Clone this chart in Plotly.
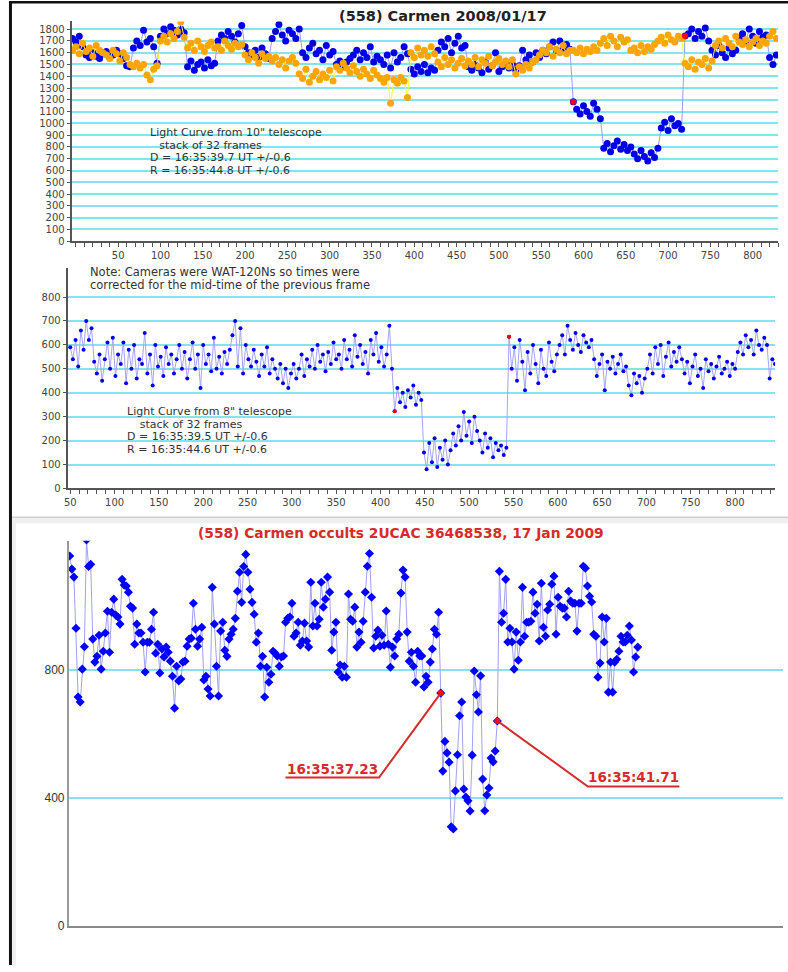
import plotly.graph_objects as go

# ---------------- DATA ----------------
# Panel 1: 10" telescope light curves (two series), frame numbers every 4 frames
TOP_FRAMES = list(range(-4, 829, 4))
TOP_BLUE = [
    1720, 1690, 1740, 1650,
    1580, 1560, 1600, 1570, 1550, 1590, 1610, 1560, 1580,
    1620, 1590, 1550, 1490,
    1480,
    1640, 1700, 1660, 1790, 1690, 1720, 1650,
    1510,
    1740, 1800, 1760, 1820, 1790, 1750, 1800, 1770,
    1480, 1530, 1450, 1500, 1520, 1470, 1540, 1490, 1510,
    1700, 1750, 1720, 1780, 1740, 1690, 1760, 1830,
    1650, 1600, 1580, 1620, 1560, 1640, 1590, 1550,
    1720, 1780, 1840, 1750, 1700, 1790, 1760, 1720, 1800,
    1600, 1560, 1640, 1680, 1590, 1620, 1540, 1660, 1580, 1610,
    1500, 1530, 1480, 1520, 1550,
    1580, 1620, 1540, 1600, 1560, 1650, 1520, 1570,
    1540, 1500, 1580, 1470, 1600, 1520, 1560, 1650,
    1590,
    1460, 1420, 1480, 1440, 1500, 1430, 1470, 1450,
    1620, 1690, 1650, 1720, 1600, 1680, 1740, 1640, 1660,
    1480, 1450, 1500, 1470, 1430, 1520, 1460, 1490, 1600, 1440, 1480, 1510, 1470, 1500, 1450, 1490, 1620,
    1540, 1580, 1520, 1600, 1560, 1620, 1590,
    1650, 1690, 1620, 1700, 1640, 1670, 1630,
    1183,
    1120, 1080, 1150, 1100, 1060, 1170, 1120, 1040,
    790, 830, 760, 810, 850, 780, 820, 770, 800,
    740, 700, 770, 720, 680, 750, 710, 790,
    960, 1010, 940, 1040, 980, 1000, 950,
    1742,
    1760, 1800, 1720, 1780, 1740, 1810, 1700,
    1620, 1580, 1660, 1600, 1560, 1640, 1590, 1620,
    1720, 1760, 1700, 1800, 1740, 1680, 1780, 1730, 1750,
    1560, 1500, 1580,
]
TOP_ORANGE = [
    1620, 1650, 1590, 1680, 1610, 1640, 1570, 1660, 1620, 1600,
    1580, 1550, 1620, 1590, 1530, 1600, 1560,
    1500, 1480, 1510, 1470, 1500, 1410,
    1370, 1460, 1490,
    1700, 1740, 1690, 1760, 1720, 1780, 1860, 1730,
    1640, 1680, 1620, 1700, 1650, 1610, 1660, 1690, 1640,
    1650, 1620, 1700, 1660, 1630, 1680, 1650, 1670,
    1580, 1540, 1600, 1560, 1510, 1590, 1550, 1570, 1530, 1560,
    1500, 1540, 1470, 1530, 1560, 1510,
    1420, 1380, 1460, 1350, 1400, 1440, 1370, 1420, 1390, 1450, 1360,
    1480, 1450, 1510, 1470, 1430, 1490,
    1440, 1400, 1460, 1420, 1380, 1450, 1410,
    1380, 1350, 1390, 1170,
    1370, 1340, 1390, 1360,
    1220,
    1600, 1560, 1640, 1580, 1620, 1570, 1650, 1590,
    1520, 1480, 1560, 1500, 1540, 1470, 1510, 1550, 1490,
    1530, 1500, 1560, 1480, 1540, 1510, 1570, 1490, 1520, 1550, 1500, 1530, 1480, 1540,
    1420, 1480, 1450, 1500, 1470, 1520, 1540,
    1580, 1620, 1600, 1650, 1570, 1630, 1600, 1660, 1590, 1620,
    1620, 1600, 1640, 1590, 1630, 1610, 1650, 1620,
    1680, 1720, 1660, 1740, 1700, 1650, 1730, 1690, 1710,
    1620, 1640, 1600, 1660, 1610, 1650, 1630, 1670,
    1700, 1730, 1680, 1750, 1710, 1690, 1740, 1720,
    1510, 1480, 1540, 1460, 1520, 1500, 1550, 1470, 1530,
    1660, 1700, 1640, 1720, 1680, 1650, 1740, 1690, 1670, 1710, 1650, 1690, 1720, 1660, 1700, 1680,
    1740, 1780, 1720,
]
TOP_EVENT_FRAMES = [588, 720]
TOP_Y_TICKS = list(range(0, 1801, 100))
TOP_X_TICKS = list(range(50, 801, 50))

# Panel 2: 8" telescope light curve, frame numbers every 3 frames
MID_FRAMES = list(range(50, 846, 3))
MID_VALUES = [
    590, 540, 620, 510, 660, 580, 700, 620, 670, 530, 480,
    560, 450, 540, 610, 500, 630, 470, 560, 520, 610, 440, 580, 500, 600, 460, 540,
    520, 650, 480, 560, 430, 600, 510, 550, 470, 590, 520, 560, 480, 540, 600, 500,
    570, 460, 540, 610, 500, 560, 420, 600, 520, 560, 490, 630, 500, 550, 480, 570,
    520, 580, 640, 700, 510, 670, 480, 600, 540, 510, 580,
    530, 470, 560, 510, 590, 480, 540, 500, 460, 520, 440, 500, 420, 480, 520, 460,
    500, 560, 470, 540, 510, 580, 500, 600, 530, 560, 490, 570, 520, 610, 540,
    560, 500, 620, 540, 580, 510, 640, 550, 600, 520, 570, 480, 620, 560, 650, 530, 590, 510, 560, 680, 500,
    323,
    420, 360, 400, 340, 410, 380, 430, 350, 400, 370,
    150, 80, 190, 110, 210, 90, 170, 120, 200, 100, 160,
    230, 180, 260, 200, 320, 220, 280, 190, 300, 240,
    200, 150, 230, 170, 210, 130, 190, 160, 180, 140, 170,
    634,
    500, 590, 450, 620, 530, 410, 570, 480, 600, 520, 440, 580, 500, 470, 610, 530, 490, 560,
    600, 640, 560, 680, 620, 580, 650, 600, 570, 640, 610, 590, 620,
    540, 470, 520, 560, 410, 530, 500, 550, 480, 520, 560, 490, 510,
    430, 390, 480, 440, 470, 400, 460,
    500, 560, 480, 590, 520, 600, 470, 550, 610, 510, 570, 530, 590, 540,
    480, 530, 440, 510, 560, 470, 500, 420, 540, 490, 520, 460, 510, 550, 480, 500, 530, 470, 520, 500,
    570, 610, 560, 640, 590, 620, 560, 660, 600, 580, 630, 600,
    460, 540, 520,
]
MID_EVENT_FRAMES = [416, 545]
MID_Y_TICKS = list(range(0, 801, 100))
MID_X_TICKS = list(range(50, 801, 50))

# Panel 3: occultation light curve (sample index on x)
BOT_VALUES = [
    1157, 1116, 1091, 931, 716, 700, 803, 873, 1207, 1124,
    1131, 897, 825, 843, 909, 803, 859, 916, 984, 856,
    981, 1022, 972, 966, 944, 1084, 1066, 1063, 1044, 1000,
    994, 881, 944, 916, 916, 887, 794, 887, 887, 928,
    981, 853, 881, 791, 866, 841, 872, 856, 828, 781,
    681, 812, 766, 772, 825, 828, 875, 897, 900, 1009,
    928, 875, 897, 934, 769, 781, 741, 719, 1059, 944,
    812, 719, 922, 950, 862, 843, 897, 912, 928, 962,
    1047, 1106, 1012, 1124, 1162, 1106, 1053, 1012, 975, 887,
    916, 812, 843,
    716, 809, 762, 787, 859, 853, 844, 812, 841, 844,
    950, 962, 966, 1009, 906, 916, 950, 878, 891, 947,
    891, 872, 1075, 938, 1009, 938, 959, 1075, 997, 1022,
    1091, 1044, 862, 919, 950, 794, 816, 778, 812, 778,
    1038, 959, 953, 997, 872, 919, 887, 953, 1044, 1125,
    1165, 1028, 869, 906, 925, 875, 909, 878,
    985, 881, 809, 872, 844, 897, 912, 1041, 1113, 1091,
    919, 828, 856, 812, 762, 859, 844, 844, 747, 781,
    762, 825, 866, 928, 912, 981,
    728,
    484, 577, 541, 512, 310, 303, 422, 535, 657, 700,
    428, 403, 391, 359, 534, 797, 723, 669, 782, 459,
    360, 409, 431, 525, 513, 547,
    641,
    1109, 950, 978, 1084, 888, 931, 888, 803, 919, 831,
    888, 1059, 906, 950, 950, 953, 1044, 978, 1006, 891,
    1072, 934, 906, 988, 1006, 1069, 1094, 912, 1028, 1000,
    994, 994, 966, 1047, 1016, 1009, 1009, 922, 1009, 1009,
    1125, 1119, 1063, 1031, 1013, 912, 906, 778, 822, 966,
    888, 962, 731, 825, 731, 825, 834, 859, 906, 888,
    888, 909, 938, 894, 794, 841, 872,
]
BOT_EVENT_IDX = [177, 204]
BOT_EVENT_LABELS = ["16:35:37.23", "16:35:41.71"]
BOT_Y_TICKS = [0, 400, 800]

TOP_TITLE = "(558) Carmen 2008/01/17"
TOP_NOTES = ['Light Curve from 10" telescope', "stack of 32 frames",
             "D = 16:35:39.7 UT +/-0.6", "R = 16:35:44.8 UT +/-0.6"]
MID_NOTES_TOP = ["Note: Cameras were WAT-120Ns so times were",
                 "corrected for the mid-time of the previous frame"]
MID_NOTES = ['Light Curve from 8" telescope', "stack of 32 frames",
             "D = 16:35:39.5 UT +/-0.6", "R = 16:35:44.6 UT +/-0.6"]
BOT_TITLE = "(558) Carmen occults 2UCAC 36468538, 17 Jan 2009"

# ---------------- STYLE / LAYOUT HELPERS ----------------
W, H = 788, 972
def PX(x): return x / W
def PY(y): return 1 - y / H

GRID = "#7fe6ef"
AXC = "#555555"
RED = "#d92a2a"
FONT = "Liberation Sans, Arial, sans-serif"
WIDE = "DejaVu Sans, Verdana, sans-serif"


def block(lines, indents, glyph_px, line_px):
    """Multi-line text: glyphs at glyph_px, line pitch line_px (plotly pitch = 1.3 em of base)."""
    out = []
    for t, ind in zip(lines, indents):
        out.append('<span style="font-size:%.1fpx">%s%s</span>' % (glyph_px, ind, t))
    return "<br>".join(out), line_px / 1.3


top_x = TOP_FRAMES[:len(TOP_BLUE)]
top_xo = TOP_FRAMES[:len(TOP_ORANGE)]
mid_x = MID_FRAMES[:len(MID_VALUES)]
bot_x = list(range(len(BOT_VALUES)))

fig = go.Figure()

# Panel 1
fig.add_trace(go.Scatter(x=top_x, y=TOP_BLUE, mode="lines+markers",
                         line=dict(color="#9a9aff", width=1),
                         marker=dict(color="#0000e6", size=7),
                         xaxis="x", yaxis="y"))
fig.add_trace(go.Scatter(x=top_xo, y=TOP_ORANGE, mode="lines+markers",
                         line=dict(color="#ffff30", width=1),
                         marker=dict(color="#ffa500", size=7),
                         xaxis="x", yaxis="y"))
ti = [TOP_FRAMES.index(f) for f in TOP_EVENT_FRAMES]
fig.add_trace(go.Scatter(x=[top_x[i] for i in ti], y=[TOP_BLUE[i] for i in ti],
                         mode="markers", marker=dict(color="#ff0000", size=6),
                         xaxis="x", yaxis="y"))

# Panel 2
fig.add_trace(go.Scatter(x=mid_x, y=MID_VALUES, mode="lines+markers",
                         line=dict(color="#a4a4ff", width=1),
                         marker=dict(color="#0000ee", size=4),
                         xaxis="x2", yaxis="y2"))
mi = [MID_FRAMES.index(f) for f in MID_EVENT_FRAMES]
fig.add_trace(go.Scatter(x=[mid_x[i] for i in mi], y=[MID_VALUES[i] for i in mi],
                         mode="markers", marker=dict(color="#ff0000", size=4),
                         xaxis="x2", yaxis="y2"))

# Panel 3
B_XR = [-0.5, 340.3]
B_YR = [0, 1205]
B_DOM_X = [65, 783]
B_DOM_Y = [932.5, 544.6]
bx_per_px = (B_XR[1] - B_XR[0]) / (B_DOM_X[1] - B_DOM_X[0])
by_per_px = (B_YR[1] - B_YR[0]) / (B_DOM_Y[0] - B_DOM_Y[1])

fig.add_trace(go.Scatter(x=bot_x, y=BOT_VALUES, mode="lines+markers",
                         line=dict(color="#a0a0f0", width=1),
                         marker=dict(color="#0000ff", size=7, symbol="diamond"),
                         xaxis="x3", yaxis="y3"))

# leader lines (pixel offsets from the event point to the label underline)
LEADERS = [(-62, -156, 85), (91, 183, 66)]  # (near end dx, far end dx, dy) in px
annotations = []
for k, idx in enumerate(BOT_EVENT_IDX):
    ex, ey = bot_x[idx], BOT_VALUES[idx]
    dn, df, dy = LEADERS[k]
    xn = ex + dn * bx_per_px
    xf = ex + df * bx_per_px
    yl = ey - dy * by_per_px
    fig.add_trace(go.Scatter(x=[ex, xn, xf], y=[ey, yl, yl], mode="lines",
                             line=dict(color=RED, width=2),
                             xaxis="x3", yaxis="y3"))
    annotations.append(dict(x=(xn + xf) / 2, y=yl, xref="x3", yref="y3",
                            text="<b>%s</b>" % BOT_EVENT_LABELS[k], showarrow=False,
                            xanchor="center", yanchor="bottom", yshift=-1,
                            font=dict(family=WIDE, size=13.5, color=RED)))
fig.add_trace(go.Scatter(x=[bot_x[i] for i in BOT_EVENT_IDX],
                         y=[BOT_VALUES[i] for i in BOT_EVENT_IDX],
                         mode="markers", marker=dict(color="#ee1111", size=6),
                         xaxis="x3", yaxis="y3"))

# Text annotations
annotations.append(dict(x=PX(441), y=PY(16), xref="paper", yref="paper",
                        text="<b>%s</b>" % TOP_TITLE, showarrow=False,
                        xanchor="center", yanchor="middle",
                        font=dict(family=WIDE, size=14.5, color="#222")))

NB2 = "&nbsp;&nbsp;&#8201;"
NB3 = "&nbsp;&nbsp;&nbsp;&#8201;"
txt, base = block(TOP_NOTES, ["", NB2, "", ""], 11.0, 12.5)
annotations.append(dict(x=PX(145), y=PY(125), xref="paper", yref="paper",
                        text=txt, showarrow=False, xanchor="left", yanchor="top",
                        align="left", font=dict(family=WIDE, size=base, color="#333")))
txt, base = block(MID_NOTES_TOP, ["", ""], 11.5, 12.5)
annotations.append(dict(x=PX(84), y=PY(265), xref="paper", yref="paper",
                        text=txt, showarrow=False, xanchor="left", yanchor="top",
                        align="left", font=dict(family=WIDE, size=base, color="#333")))
txt, base = block(MID_NOTES, ["", NB3, "", ""], 11.0, 12.5)
annotations.append(dict(x=PX(122), y=PY(406), xref="paper", yref="paper",
                        text=txt, showarrow=False, xanchor="left", yanchor="top",
                        align="left", font=dict(family=WIDE, size=base, color="#333")))
annotations.append(dict(x=PX(399), y=PY(537), xref="paper", yref="paper",
                        text="<b>%s</b>" % BOT_TITLE, showarrow=False,
                        xanchor="center", yanchor="middle",
                        font=dict(family=WIDE, size=13.8, color=RED)))

# Frame decorations
shapes = [
    dict(type="rect", xref="paper", yref="paper", x0=PX(8), x1=PX(788), y0=PY(972), y1=PY(520),
         fillcolor="#efefef", line=dict(width=0), layer="below"),
    dict(type="rect", xref="paper", yref="paper", x0=PX(12), x1=PX(788), y0=PY(972), y1=PY(527),
         fillcolor="#ffffff", line=dict(width=0), layer="below"),
    dict(type="line", xref="paper", yref="paper", x0=PX(8), x1=PX(788), y0=PY(521), y1=PY(521),
         line=dict(color="#c4c4c4", width=1), layer="below"),
    dict(type="rect", xref="paper", yref="paper", x0=PX(5), x1=PX(8), y0=PY(972), y1=PY(1),
         fillcolor="#111111", line=dict(width=0)),
    dict(type="rect", xref="paper", yref="paper", x0=PX(5), x1=PX(788), y0=PY(3.5), y1=PY(1),
         fillcolor="#111111", line=dict(width=0)),
]

tickfont_small = dict(family=WIDE, size=10, color="#444")

fig.update_layout(
    width=W, height=H, margin=dict(l=0, r=0, t=0, b=0),
    paper_bgcolor="#ffffff", plot_bgcolor="rgba(0,0,0,0)",
    showlegend=False, annotations=annotations, shapes=shapes,
    xaxis=dict(domain=[PX(68), PX(778)], range=[-5, 830], anchor="y",
               tickmode="array", tickvals=TOP_X_TICKS, ticks="outside", ticklen=4,
               tickcolor=AXC, tickwidth=1,
               minor=dict(tickmode="array", tickvals=list(range(0, 831, 10)),
                          ticks="outside", ticklen=4, tickcolor=AXC, showgrid=False),
               showline=True, linecolor=AXC, linewidth=2, showgrid=False, zeroline=False,
               tickfont=tickfont_small),
    yaxis=dict(domain=[PY(243), PY(21.6)], range=[0, 1865], anchor="x",
               tickmode="array", tickvals=TOP_Y_TICKS, ticks="outside", ticklen=3,
               tickcolor=AXC, showline=True, linecolor=AXC, linewidth=2,
               showgrid=True, gridcolor=GRID, gridwidth=1.5, zeroline=False,
               tickfont=tickfont_small),
    xaxis2=dict(domain=[PX(64), PX(775)], range=[47.1, 845.1], anchor="y2",
                tickmode="array", tickvals=MID_X_TICKS, ticks="outside", ticklen=4,
                tickcolor=AXC,
                minor=dict(tickmode="array", tickvals=list(range(50, 846, 10)),
                           ticks="outside", ticklen=4, tickcolor=AXC, showgrid=False),
                showline=True, linecolor=AXC, linewidth=2, showgrid=False, zeroline=False,
                tickfont=tickfont_small),
    yaxis2=dict(domain=[PY(492), PY(270)], range=[0, 921], anchor="x2",
                tickmode="array", tickvals=MID_Y_TICKS, ticks="outside", ticklen=3,
                tickcolor=AXC, showline=True, linecolor=AXC, linewidth=2,
                showgrid=True, gridcolor=GRID, gridwidth=1.5, zeroline=False,
                tickfont=tickfont_small),
    xaxis3=dict(domain=[PX(B_DOM_X[0]), PX(B_DOM_X[1])], range=B_XR, anchor="y3",
                showticklabels=False, ticks="", showline=True, linecolor="#8a8a8a",
                linewidth=2, showgrid=False, zeroline=False),
    yaxis3=dict(domain=[PY(B_DOM_Y[0]), PY(B_DOM_Y[1])], range=B_YR, anchor="x3",
                tickmode="array", tickvals=BOT_Y_TICKS, ticks="", showline=True,
                linecolor="#9a9a9a", linewidth=1.5, showgrid=True, gridcolor=GRID,
                gridwidth=1.5, zeroline=False,
                tickfont=dict(family=FONT, size=12, color="#333")),
)

fig.write_html("out.html")
